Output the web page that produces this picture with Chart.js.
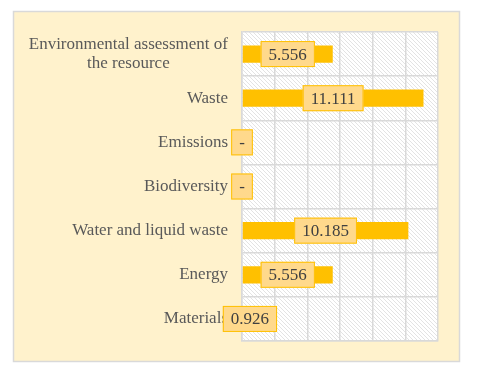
<!DOCTYPE html>
<html>
<head>
<meta charset="utf-8">
<script src="https://cdn.jsdelivr.net/npm/chart.js@4/dist/chart.umd.min.js"></script>
<style>
html,body{margin:0;padding:0;background:#fff;}
#wrap{width:480px;height:375px;position:relative;}
</style>
</head>
<body>
<div id="wrap"><canvas id="c" width="480" height="375"></canvas></div>
<script>
const categories = [
  ["Environmental assessment of", "the resource"],
  "Waste",
  "Emissions",
  "Biodiversity",
  "Water and liquid waste",
  "Energy",
  "Materials"
];
const values = [5.556, 11.111, 0, 0, 10.185, 5.556, 0.926];
const valueLabels = ["5.556", "11.111", "-", "-", "10.185", "5.556", "0.926"];
const xMin = 0, xMax = 12, xStep = 2;

const FONT = '17px "Liberation Serif", "Times New Roman", serif';

const panelPlugin = {
  id: 'panel',
  beforeDraw(chart) {
    const ctx = chart.ctx;
    const a = chart.chartArea;
    ctx.save();
    ctx.fillStyle = '#FFF2CC';
    ctx.fillRect(13, 11, 447, 351);
    ctx.strokeStyle = '#D9D9D9';
    ctx.lineWidth = 1.5;
    ctx.strokeRect(13.5, 11.5, 446, 350);
    // plot area hatch
    ctx.fillStyle = '#FFFFFF';
    ctx.fillRect(a.left, a.top, a.right - a.left, a.bottom - a.top);
    ctx.beginPath();
    ctx.rect(a.left, a.top, a.right - a.left, a.bottom - a.top);
    ctx.clip();
    ctx.strokeStyle = '#DCDCDC';
    ctx.lineWidth = 0.8;
    const h = a.bottom - a.top;
    for (let x = a.left - h; x < a.right + h; x += 4) {
      ctx.beginPath();
      ctx.moveTo(x, a.top);
      ctx.lineTo(x + h, a.bottom);
      ctx.stroke();
    }
    ctx.restore();
  }
};

const yLabelPlugin = {
  id: 'ylabels',
  beforeDatasetsDraw(chart) {
    const ctx = chart.ctx;
    const ys = chart.scales.y;
    const rightX = chart.chartArea.left - 14;
    ctx.save();
    ctx.font = FONT;
    ctx.fillStyle = '#595959';
    ctx.textBaseline = 'middle';
    ctx.textAlign = 'center';
    categories.forEach((lab, i) => {
      const lines = Array.isArray(lab) ? lab : [lab];
      const w = Math.max(...lines.map(l => ctx.measureText(l).width));
      const cx = rightX - w / 2;
      const cy = ys.getPixelForValue(i);
      const lh = 18.5;
      const startY = cy - (lines.length - 1) * lh / 2;
      lines.forEach((l, k) => ctx.fillText(l, cx, startY + k * lh));
    });
    ctx.restore();
  }
};

const dataLabelPlugin = {
  id: 'dlabels',
  afterDatasetsDraw(chart) {
    const ctx = chart.ctx;
    const meta = chart.getDatasetMeta(0);
    ctx.save();
    ctx.font = FONT;
    ctx.textAlign = 'center';
    ctx.textBaseline = 'middle';
    meta.data.forEach((bar, i) => {
      const txt = valueLabels[i];
      const p = bar.getProps(['x', 'y', 'base'], true);
      const cx = (p.x + p.base) / 2;
      const cy = p.y;
      const w = ctx.measureText(txt).width + 16;
      const hgt = 26;
      ctx.fillStyle = '#FFD98C';
      ctx.fillRect(cx - w / 2, cy - hgt / 2, w, hgt);
      ctx.strokeStyle = '#FFC000';
      ctx.lineWidth = 1;
      ctx.strokeRect(cx - w / 2 + 0.5, cy - hgt / 2 + 0.5, w - 1, hgt - 1);
      ctx.fillStyle = '#404040';
      ctx.fillText(txt, cx, cy + 1);
    });
    ctx.restore();
  }
};

new Chart(document.getElementById('c'), {
  type: 'bar',
  data: {
    labels: categories,
    datasets: [{
      data: values,
      backgroundColor: '#FFC000',
      borderWidth: 0,
      categoryPercentage: 1,
      barPercentage: 0.39
    }]
  },
  options: {
    indexAxis: 'y',
    responsive: false,
    animation: false,
    devicePixelRatio: 1,
    layout: { padding: { left: 242, top: 32, right: 42, bottom: 34 } },
    plugins: { legend: { display: false }, tooltip: { enabled: false } },
    scales: {
      x: {
        min: xMin, max: xMax,
        ticks: { display: false, stepSize: xStep },
        grid: { color: '#D9D9D9', lineWidth: 1.5, drawTicks: false },
        border: { display: true, color: '#D9D9D9', width: 1.5 },
        afterFit(s) { s.height = 0; }
      },
      y: {
        ticks: { display: false },
        grid: { color: '#D9D9D9', lineWidth: 1.5, drawTicks: false, offset: true },
        border: { display: true, color: '#D9D9D9', width: 1.5 },
        afterFit(s) { s.width = 0; }
      }
    }
  },
  plugins: [panelPlugin, yLabelPlugin, dataLabelPlugin]
});
</script>
</body>
</html>
